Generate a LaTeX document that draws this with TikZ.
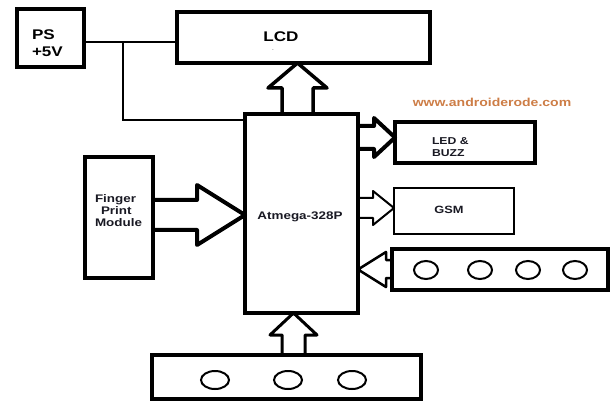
\documentclass[tikz,border=0pt]{standalone}
\usepackage{fontspec}
\setmainfont{Liberation Sans}
\newfontfamily\widefont[FakeStretch=1.22]{Liberation Sans}
\usetikzlibrary{calc}
\definecolor{wmark}{RGB}{205,125,70}
\definecolor{ink}{RGB}{25,25,35}
\begin{document}
\begin{tikzpicture}[x=1pt,y=-1pt,
  box/.style={draw, line width=4.5pt, inner sep=0pt, outer sep=0pt},
  wire/.style={line width=2.5pt},
  barrow/.style={draw, line join=round, line width=#1},
  lbl/.style={inner sep=0pt, outer sep=0pt, text=ink}]
\useasboundingbox (0,0) rectangle (615,403);
% boxes
\node[box, minimum width=67pt, minimum height=58pt] (ps) at (50.5,38) {};
\node[box, minimum width=253pt, minimum height=51pt] (lcd) at (303.5,37.5) {};
\node[box, minimum width=113pt, minimum height=199pt] (atm) at (301.5,213.5) {};
\node[box, minimum width=68pt, minimum height=121pt] (fpm) at (119,217.5) {};
\node[box, minimum width=269pt, minimum height=44pt] (kb1) at (286.5,377) {};
\node[box, minimum width=140pt, minimum height=41pt] (led) at (465,142.5) {};
\node[box, line width=2.5pt, minimum width=120pt, minimum height=46pt] (gsm) at (454,211) {};
\node[box, line width=3.5pt, minimum width=216pt, minimum height=41pt] (kb2) at (500,269.5) {};
% texts
\node[lbl, anchor=west, align=left, text=black, font=\widefont\bfseries\fontsize{14}{17}\selectfont] (pst) at (32,43) {PS\\+5V};
\node[lbl, text=black, font=\widefont\bfseries\fontsize{14}{17}\selectfont] (lcdt) at (281,37) {LCD};
\node[lbl, text=gray, font=\fontsize{8}{8}\selectfont] (lcddot) at (273,50) {.};
\node[lbl, font=\widefont\bfseries\fontsize{11}{12}\selectfont] (atmt) at (300,217) {Atmega-328P};
\node[lbl, anchor=north west, align=left, font=\widefont\bfseries\fontsize{11}{12}\selectfont] (fpmt) at (95,195) {Finger\\\hspace*{6pt}Print\\Module};
\node[lbl, anchor=north west, align=left, font=\widefont\bfseries\fontsize{10}{11.5}\selectfont] (ledt) at (432,138) {LED \&\\BUZZ};
\node[lbl, font=\widefont\bfseries\fontsize{10.5}{12}\selectfont] (gsmt) at (449,210) {GSM};
\node[lbl, text=wmark, font=\widefont\bfseries\fontsize{11.5}{12}\selectfont] (wm) at (492,102) {www.androiderode.com};
% power wires
\coordinate (j) at (123,0 |- 0,42);
\draw[wire] (84,42 -| ps.east) -- (177,42 -| lcd.west);
\draw[wire] (j) |- (0,120 -| atm.west);
% block arrows
\draw[barrow=3.5pt] (282,0 |- atm.north) -- (282,88) -- (268,88) -- (297.5,0 |- lcd.south) -- (327,88) -- (313,88) -- (313,0 |- atm.north);
\draw[barrow=4pt] (0,200 -| fpm.east) -- (197,200) -- (197,185) -- (0,215 -| atm.west) -- (197,245) -- (197,230) -- (0,230 -| fpm.east);
\draw[barrow=4pt] (0,126 -| atm.east) -- (374,126) -- (374,118) -- (0,137.5 -| led.west) -- (374,157) -- (374,149) -- (0,149 -| atm.east);
\draw[barrow=2pt] (0,198 -| atm.east) -- (373,198) -- (373,191) -- (0,208 -| gsm.west) -- (373,225) -- (373,218) -- (0,218 -| atm.east);
\draw[barrow=2.5pt] (0,260 -| kb2.west) -- (386,260) -- (386,252) -- (0,269.5 -| atm.east) -- (386,287) -- (386,278) -- (0,278 -| kb2.west);
\draw[barrow=3pt] (282,0 |- kb1.north) -- (282,335) -- (270,335) -- (293.5,0 |- atm.south) -- (317,335) -- (305,335) -- (305,0 |- kb1.north);
% keys
\foreach \cx in {215,288,352} \draw[line width=2pt] (\cx,380) ellipse [x radius=14, y radius=9];
\foreach \cx in {426,480,528,575} \draw[line width=2pt] (\cx,270) ellipse [x radius=12, y radius=9];
\end{tikzpicture}
\end{document}
